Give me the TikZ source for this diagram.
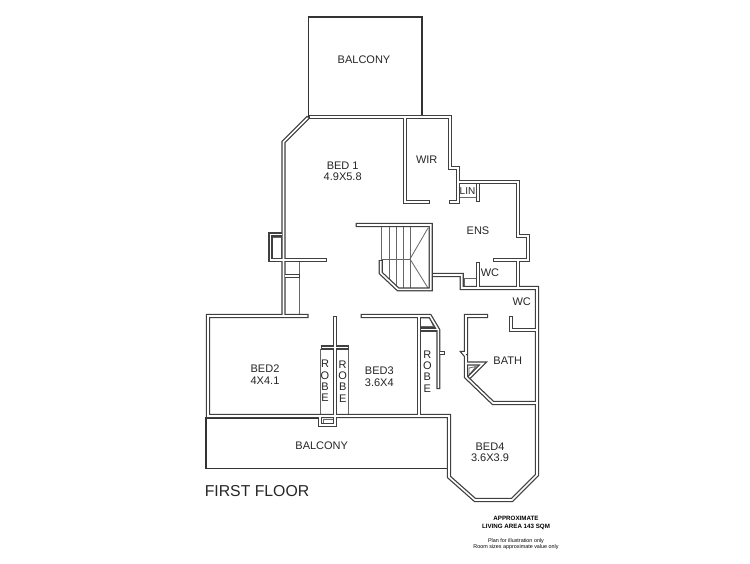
\documentclass[tikz,border=0pt]{standalone}
\usepackage{fontspec}
\setmainfont{Liberation Sans}
\usetikzlibrary{backgrounds}
\pgfdeclarelayer{wallcore}
\pgfsetlayers{main,wallcore}

\newcommand{\wall}[1]{%
  \draw[wallside] #1;
  \begin{pgfonlayer}{wallcore}\draw[wallgap] #1;\end{pgfonlayer}}

\begin{document}
\begin{tikzpicture}[x=1pt, y=-1pt, line join=miter]
\tikzstyle{wallside}=[draw=black!75, line width=4.1pt]
\tikzstyle{wallgap}=[draw=white, line width=1.6pt, shorten >=1.2pt, shorten <=1.2pt]
\tikzstyle{thinline}=[draw=black!60, line width=0.8pt]
\tikzstyle{edge}=[draw=black!80, line width=1.3pt]
\tikzstyle{room}=[font=\fontsize{11}{11.5}\selectfont, text=black!85, align=center, inner sep=0pt]
\tikzstyle{letters}=[room, font=\fontsize{11}{11.3}\selectfont]

\useasboundingbox[fill=white] (0,0) rectangle (750,563);

% balconies
\draw[edge] (308.5,117) -- (308.5,17) -- (422,17) -- (422,117);
\draw[edge] (320,418) -- (206,418) -- (206,468.5) -- (447,468.5);

% stairs
\foreach \sx/\sy in {381.7/260, 389/280, 396/286, 403/288, 410/288}
  \draw[thinline] (\sx,227) -- (\sx,\sy);
\draw[thinline] (381.7,259) -- (410,259);
\draw[thinline] (410,259) -- (428,228);
\draw[thinline] (410,259) -- (428,288);

% thin fittings
\draw[thinline] (299,261) -- (299,315);
\draw[thinline] (272.5,237.5) rectangle (281,258.5);
\draw[thinline] (460,197) -- (477,197);
\draw[thinline] (464.5,278) rectangle (477,286);
\draw[thinline] (320.7,349) -- (320.7,415);
\draw[thinline] (348.3,349) -- (348.3,415);
\draw[thinline] (323,419) rectangle (333,424.5);
\draw[thinline] (420.5,318) -- (430,318) -- (433.5,326.5) -- (420.5,326.5) -- cycle;
\draw[thinline] (469,375) -- (469,368) -- (476,366.5) -- cycle;

% outer walls
\wall{(308.5,117) -- (283.5,142) -- (283.5,316)}
\wall{(308.5,117) -- (450,117) -- (450,168) -- (458,168) -- (458,201.7) -- (449,201.7)}
\wall{(458,182) -- (518,182) -- (518,236) -- (528,236) -- (528,260) -- (492.7,260)}
\wall{(283,234.5) -- (270.5,234.5) -- (270.5,260) -- (327,260)}
\wall{(283.5,276) -- (300,276)}
\wall{(308.5,316) -- (208,316) -- (208,416) -- (449,416) -- (449,477) -- (475,500) -- (512,500) -- (537,475) -- (537,288) -- (461.7,288) -- (461.7,275) -- (432,275)}

% inner walls
\wall{(405.2,117) -- (405.2,201.7) -- (430,201.7)}
\wall{(478,183) -- (478,201.7)}
\wall{(355.7,225) -- (430.7,225) -- (430.7,289.3) -- (398,289.3) -- (380.7,273) -- (380.7,260)}
\wall{(478,262) -- (478,288)}
\wall{(518,260) -- (518,288)}
\wall{(360.7,316) -- (430,316) -- (438.3,330) -- (438.3,389)}
\wall{(438.3,353) -- (445,353)}
\wall{(419,316) -- (419,416)}
\wall{(420,329.5) -- (438,329.5)}
\wall{(335,316) -- (335,425) -- (320,425) -- (320,416)}
\wall{(320.7,347.5) -- (349,347.5)}
\wall{(488,316) -- (466,316) -- (466,353) -- (463.5,353) -- (466,356) -- (466,377) -- (493,403) -- (537,403)}
\wall{(466,363.5) -- (483,363.5) -- (468.5,378)}
\wall{(511,316) -- (511,330) -- (537,330)}

\node[room] (balconytop) at (364,60) {BALCONY};
\node[room] (bedone) at (342.7,171.5) {BED 1\\4.9X5.8};
\node[room] (wir) at (426.7,159.3) {WIR};
\node[room, font=\fontsize{10}{10}\selectfont] (lin) at (467.5,191) {LIN};
\node[room] (ens) at (478,231) {ENS};
\node[room] (wcens) at (490,272.7) {WC};
\node[room] (wcbath) at (521.7,301.7) {WC};
\node[room] (bedtwo) at (265,374.5) {BED2\\4X4.1};
\node[room] (bedthree) at (379.3,376.5) {BED3\\3.6X4};
\node[room] (balconylow) at (321.7,445.7) {BALCONY};
\node[room] (bath) at (507.7,360.7) {BATH};
\node[room] (bedfour) at (490,452.5) {BED4\\3.6X3.9};
\node[letters] (robeleft) at (325,381) {R\\O\\B\\E};
\node[letters] (robemid) at (342.7,381.5) {R\\O\\B\\E};
\node[letters] (robeside) at (427.3,371.5) {R\\O\\B\\E};
\node[inner sep=0pt, font=\fontsize{15.8}{16}\selectfont, text=black!85] (floorname) at (257,491) {FIRST FLOOR};
\node[inner sep=0pt, align=center, font=\fontsize{6.2}{7.2}\selectfont\bfseries] (area) at (516,523) {APPROXIMATE\\LIVING AREA 143 SQM};
\node[inner sep=0pt, align=center, font=\fontsize{5.4}{6.6}\selectfont] (note) at (516,544) {Plan for illustration only\\Room sizes approximate value only};
\end{tikzpicture}
\end{document}
